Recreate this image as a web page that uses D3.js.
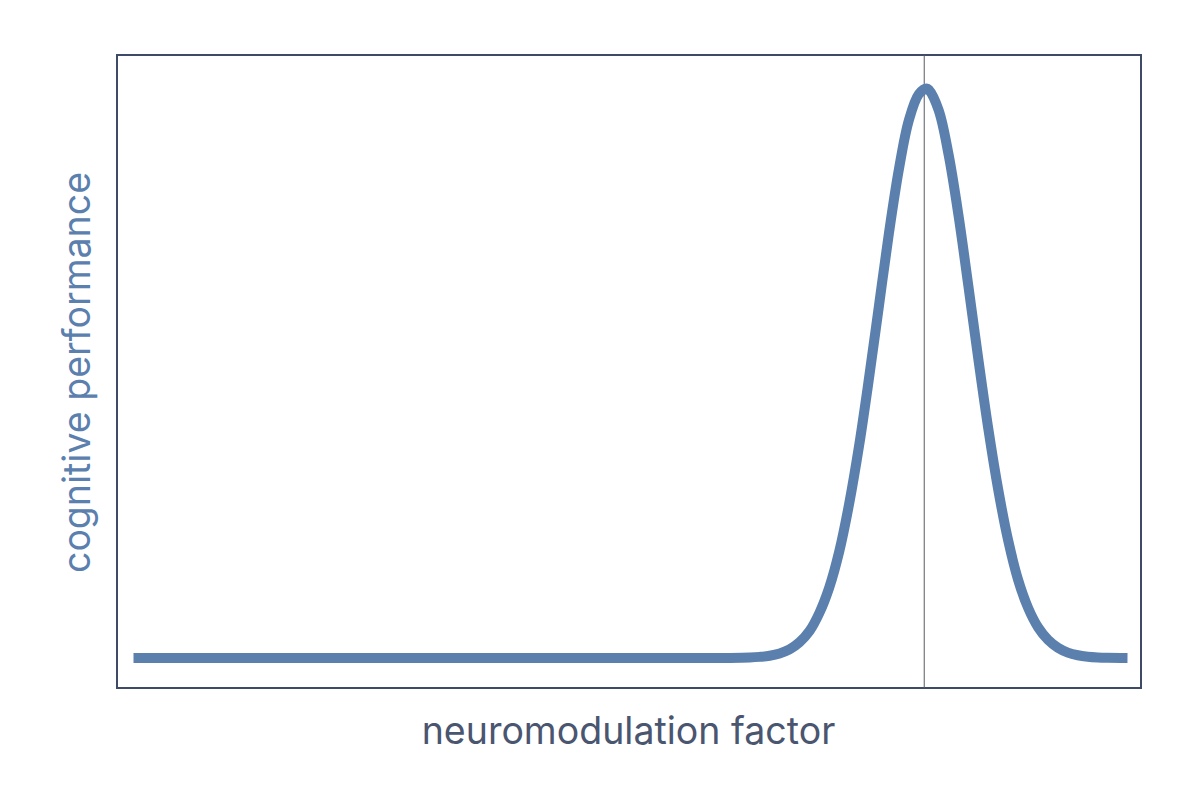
<!DOCTYPE html>
<html>
<head>
<meta charset="utf-8">
<script src="https://cdn.jsdelivr.net/npm/d3@7"></script>
<style>
  html, body { margin: 0; padding: 0; background: #fff; }
  svg { display: block; }
</style>
</head>
<body>
<svg id="chart" width="1200" height="809"></svg>
<script>
// Data (x: neuromodulation factor, y: cognitive performance, normalised)
const xValues = [0, 1, 2, 3, 4, 5, 6, 6.2, 6.3, 6.4, 6.5, 6.6, 6.7, 6.8, 6.9, 7.0, 7.1, 7.2, 7.3, 7.4, 7.5, 7.6, 7.7, 7.8, 7.9, 7.98, 8.0, 8.1, 8.2, 8.3, 8.4, 8.5, 8.6, 8.7, 8.8, 8.9, 9.0, 9.1, 9.2, 9.3, 9.4, 9.5, 9.6, 9.7, 9.8, 10];
const yValues = [0, 0, 0, 0, 0, 0, 0.0002, 0.0009, 0.002, 0.004, 0.008, 0.015, 0.0275, 0.047, 0.079, 0.124, 0.187, 0.271, 0.373, 0.492, 0.619, 0.746, 0.858, 0.944, 0.990, 1.0, 0.998, 0.962, 0.884, 0.777, 0.652, 0.524, 0.402, 0.295, 0.206, 0.137, 0.088, 0.054, 0.032, 0.018, 0.0095, 0.0048, 0.0023, 0.001, 0.0004, 0];
const optimumX = [7.955];
const xTitle = "neuromodulation factor";
const yTitle = "cognitive performance";

const svg = d3.select("#chart");
const frame = { left: 117, right: 1141, top: 55, bottom: 688 };

const x = d3.scaleLinear().domain([0, 10]).range([133.5, 1127.5]);
const y = d3.scaleLinear().domain([0, 1]).range([658, 88.5]);

const points = xValues.map((v, i) => ({ x: v, y: yValues[i] }));

// frame
svg.append("rect")
  .attr("x", frame.left).attr("y", frame.top)
  .attr("width", frame.right - frame.left)
  .attr("height", frame.bottom - frame.top)
  .attr("fill", "none")
  .attr("stroke", "#3f4b66")
  .attr("stroke-width", 2);

// vertical line at optimum
svg.selectAll(".vline").data(optimumX).enter().append("line")
  .attr("class", "vline")
  .attr("x1", d => x(d)).attr("x2", d => x(d))
  .attr("y1", frame.top).attr("y2", frame.bottom)
  .attr("stroke", "#555a62")
  .attr("stroke-width", 1);

// curve
const line = d3.line()
  .x(d => x(d.x))
  .y(d => y(d.y))
  .curve(d3.curveCatmullRom.alpha(0.5));

svg.append("path")
  .datum(points)
  .attr("d", line)
  .attr("fill", "none")
  .attr("stroke", "#5b80ae")
  .attr("stroke-width", 10)
  .attr("stroke-linejoin", "round")
  .attr("stroke-linecap", "butt");

// axis titles
svg.append("text")
  .attr("x", (frame.left + frame.right) / 2 - 0.5)
  .attr("y", 744)
  .attr("text-anchor", "middle")
  .attr("font-family", "Inter, 'Noto Sans', sans-serif")
  .attr("font-size", 37.5)
  .attr("fill", "#4a5570")
  .text(xTitle);

svg.append("text")
  .attr("transform", `translate(90, ${(frame.top + frame.bottom) / 2 + 1}) rotate(-90)`)
  .attr("text-anchor", "middle")
  .attr("font-family", "Inter, 'Noto Sans', sans-serif")
  .attr("font-size", 37.5)
  .attr("fill", "#5b80ae")
  .text(yTitle);
</script>
</body>
</html>
